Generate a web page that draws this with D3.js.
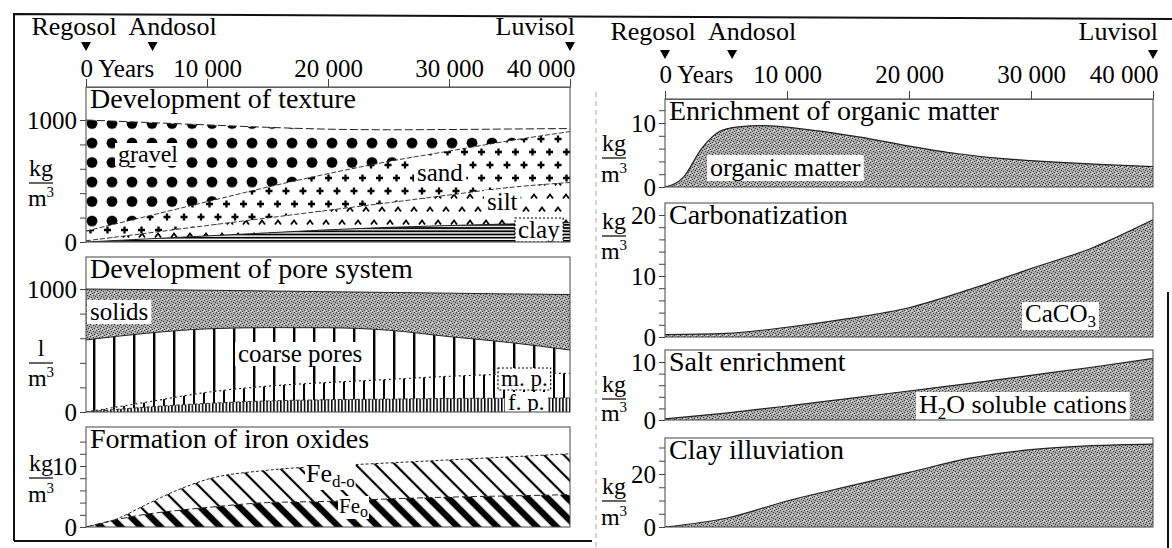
<!DOCTYPE html>
<html>
<head>
<meta charset="utf-8">
<script src="https://cdn.jsdelivr.net/npm/d3@7"></script>
<style>
  body { margin: 0; background: #fff; }
  svg { display: block; }
  text { font-family: "Liberation Serif", "Times New Roman", serif; fill: #000; }
</style>
</head>
<body>
<div id="chart"></div>
<script>
var years = [0, 5000, 10000, 15000, 20000, 25000, 30000, 35000, 40000];
var yearTicks = [0, 10000, 20000, 30000, 40000];
var soilStages = [
  {name: "Regosol", year: 0},
  {name: "Andosol", year: 5500},
  {name: "Luvisol", year: 40000}
];

// development of texture, kg/m3 of each fraction (stacked from the bottom)
var clay   = [0, 25, 50, 75, 100, 120, 135, 148, 158];
var silt   = [10, 47, 85, 122, 160, 202, 250, 299, 330];
var sand   = [80, 138, 195, 253, 300, 338, 360, 383, 417];
var gravel = [910, 770, 630, 490, 365, 260, 177, 96, 25];

// development of pore system, l/m3
var finePores   = [0, 40, 70, 90, 100, 105, 110, 112, 114];
var mediumPores = [0, 40, 90, 120, 140, 160, 180, 196, 201];
var coarsePores = [586, 560, 516, 476, 445, 400, 323, 257, 189];
var solids      = [414, 355, 314, 298, 293, 307, 353, 395, 451];

// iron oxides, kg/m3
var ironYears = [0, 2500, 5000, 7500, 10000, 15000, 20000, 25000, 30000, 35000, 40000];
var feO  = [0, 1.2, 2.1, 2.7, 3.2, 4.0, 4.2, 4.6, 4.9, 5.1, 5.3];
var feDO = [0, 0.1, 1.6, 3.3, 4.6, 5.3, 5.8, 5.9, 6.1, 6.4, 6.7];

// organic matter, kg/m3
var organicYears  = [0, 1500, 3000, 4500, 6000, 8000, 12000, 16000, 20000, 24000, 28000, 32000, 36000, 40000];
var organicMatter = [0, 1.5, 6.0, 8.7, 9.4, 9.6, 8.9, 7.8, 6.4, 5.2, 4.4, 3.9, 3.5, 3.2];

// the other right hand curves, kg/m3 at "years"
var caco3          = [0.4, 0.6, 1.6, 3.0, 4.8, 7.8, 11.2, 14.6, 19.2];
var solubleCations = [0.2, 1.2, 2.4, 3.7, 5.0, 6.3, 7.7, 9.1, 10.6];
var illuvialClay   = [0, 3.3, 9.8, 15.3, 20.6, 26.0, 29.2, 30.7, 31.3];

var svg = d3.select("#chart").append("svg").attr("width", 1172).attr("height", 548)
  .style("font-family", "'Liberation Serif', 'Times New Roman', serif");
var defs = svg.append("defs");

// fill patterns
function pat(id, w, h, x, y) {
  return defs.append("pattern").attr("id", id).attr("patternUnits", "userSpaceOnUse")
    .attr("width", w).attr("height", h).attr("x", x || 0).attr("y", y || 0);
}
var p = pat("pat-gravel", 20, 19.5, 82, 113.5);
p.append("circle").attr("cx", 10).attr("cy", 10).attr("r", 5.4);

p = pat("pat-sand", 17, 26, 86, 120);
p.append("path").attr("d", "M1,6h7M4.5,2.5v7M9.5,19h7M13,15.5v7").attr("stroke", "#000").attr("stroke-width", 2.3);

p = pat("pat-silt", 16, 26, 90, 125);
p.append("path").attr("d", "M1,8.5L4,4.5L7,8.5M9,21.5L12,17.5L15,21.5")
  .attr("stroke", "#000").attr("stroke-width", 1.8).attr("fill", "none");

p = pat("pat-clay", 8, 3.2);
p.append("rect").attr("width", 8).attr("height", 1.8);

p = pat("pat-stipple", 6, 6);
p.append("rect").attr("width", 6).attr("height", 6).attr("fill", "#ababab");
[[0, 0], [3, 1], [1, 3], [4, 4], [2, 5], [5, 2]].forEach(function(d) {
  p.append("rect").attr("x", d[0]).attr("y", d[1]).attr("width", 1).attr("height", 1).attr("fill", "#333");
});
[[2, 0], [5, 5], [0, 4]].forEach(function(d) {
  p.append("rect").attr("x", d[0]).attr("y", d[1]).attr("width", 1).attr("height", 1).attr("fill", "#e6e6e6");
});

p = pat("pat-coarse", 20, 10, 93, 0);
p.append("rect").attr("width", 2.4).attr("height", 10);
p = pat("pat-medium", 10, 10, 93, 0);
p.append("rect").attr("width", 2).attr("height", 10);
p = pat("pat-fine", 3.4, 10, 93, 0);
p.append("rect").attr("width", 1.5).attr("height", 10);

p = pat("pat-thin", 14, 14).attr("patternTransform", "rotate(-45)");
p.append("rect").attr("x", 5.9).attr("width", 2.2).attr("height", 14);
p = pat("pat-thick", 14, 14).attr("patternTransform", "rotate(-45)");
p.append("rect").attr("x", 3.8).attr("width", 6.4).attr("height", 14);

// columns and the year axis above them
var columns = [
  {x0: 86, x1: 570, nameY: 35, triY: 42, labelY: 77, axisY: 87, unitX: 41},
  {x0: 665, x1: 1153, nameY: 40, triY: 50, labelY: 83, axisY: 99, unitX: 614}
];
columns.forEach(function(c) { c.x = d3.scaleLinear().domain([0, 40000]).range([c.x0, c.x1]); });
var stageStyle = {
  Regosol: {anchor: "middle", dx: -12},
  Andosol: {anchor: "middle", dx: 20},
  Luvisol: {anchor: "end", dx: 5}
};

columns.forEach(function(c) {
  var g = svg.append("g");
  soilStages.forEach(function(s) {
    var sx = c.x(s.year);
    g.append("path").attr("d", "M" + (sx - 5) + "," + c.triY + "h10l-5,9z");
    g.append("text").attr("x", sx + stageStyle[s.name].dx).attr("y", c.nameY)
      .attr("text-anchor", stageStyle[s.name].anchor).style("font-size", "26px").text(s.name);
  });
  var ax = g.append("g").attr("transform", "translate(0," + c.axisY + ")")
    .call(d3.axisTop(c.x).tickValues(yearTicks).tickSize(8).tickSizeOuter(0)
      .tickFormat(function(d) { return d === 0 ? "0 Years" : d3.format(",")(d).replace(/,/g, " "); }));
  ax.attr("font-family", null).attr("font-size", null);
  ax.select(".domain").attr("stroke", "#777");
  ax.selectAll(".tick line").attr("stroke", "#444");
  ax.selectAll(".tick text").attr("y", c.labelY - c.axisY).attr("dy", null).style("font-size", "25px")
    .attr("text-anchor", function(d) { return d === 0 ? "start" : (d === 40000 ? "end" : "middle"); })
    .attr("x", function(d) { return d === 0 ? -6 : (d === 40000 ? 5 : 0); });
});

// panel helpers
var clipN = 0;
function panel(c, top, domain, range) {
  var y = d3.scaleLinear().domain(domain).range(range);
  var id = "clip" + (clipN++);
  var bottom = y(0);
  defs.append("clipPath").attr("id", id).append("rect")
    .attr("x", c.x0).attr("y", top).attr("width", c.x1 - c.x0).attr("height", bottom - top);
  var g = svg.append("g");
  return {c: c, x: c.x, y: y, top: top, bottom: bottom, g: g,
          plot: g.append("g").attr("clip-path", "url(#" + id + ")")};
}

function finish(pn, title, ticks, shown, unit, unitYs) {
  var c = pn.c;
  pn.g.append("rect").attr("x", c.x0).attr("y", pn.top).attr("width", c.x1 - c.x0)
    .attr("height", pn.bottom - pn.top).attr("fill", "none").attr("stroke", "#444").attr("stroke-width", 1);
  pn.g.append("text").attr("x", c.x0 + 4).attr("y", pn.top + 21).style("font-size", "28px").text(title);
  var ay = pn.g.append("g").attr("transform", "translate(" + c.x0 + ",0)")
    .call(d3.axisLeft(pn.y).tickValues(ticks).tickSize(6).tickPadding(3)
      .tickFormat(function(d) { return shown.indexOf(d) >= 0 ? d : ""; }));
  ay.attr("font-family", null).attr("font-size", null);
  ay.select(".domain").remove();
  ay.selectAll(".tick line").attr("stroke", "#444");
  ay.selectAll(".tick text").style("font-size", "25px").attr("dy", "0.34em");
  // unit as a fraction
  var u = pn.g.append("g").style("font-size", "24px");
  u.append("text").attr("x", c.unitX).attr("y", unitYs[0]).attr("text-anchor", "middle").text(unit);
  u.append("line").attr("x1", c.unitX - 12).attr("x2", c.unitX + 12)
    .attr("y1", unitYs[1]).attr("y2", unitYs[1]).attr("stroke", "#000").attr("stroke-width", 1.2);
  var m = u.append("text").attr("x", c.unitX).attr("y", unitYs[2]).attr("text-anchor", "middle");
  m.append("tspan").text("m");
  m.append("tspan").attr("dy", -9).style("font-size", "15px").text("3");
}

// text on a white patch; parts are [text, dy, size]
function tag(parent, x, y, parts, opt) {
  opt = opt || {};
  var t = parent.append("text").attr("x", x).attr("y", y).style("font-size", (opt.size || 25) + "px");
  parts.forEach(function(pt) {
    var s = t.append("tspan").text(pt[0]);
    if (pt[1]) s.attr("dy", pt[1]);
    if (pt[2]) s.style("font-size", pt[2] + "px");
  });
  var b = t.node().getBBox();
  var pad = opt.pad == null ? 3 : opt.pad;
  parent.insert("rect", function() { return t.node(); })
    .attr("x", b.x - pad).attr("y", b.y + 2).attr("width", b.width + 2 * pad).attr("height", b.height - 3)
    .attr("fill", "#fff").attr("stroke", opt.stroke || "none")
    .attr("stroke-dasharray", opt.dash || null).attr("stroke-width", 1.2);
}

function stackedPanel(pn, xs, keys, cols, fills) {
  var rows = xs.map(function(yr, i) {
    var r = {year: yr};
    keys.forEach(function(k, j) { r[k] = cols[j][i]; });
    return r;
  });
  var layers = d3.stack().keys(keys)(rows);
  var area = d3.area().curve(d3.curveMonotoneX)
    .x(function(d) { return pn.x(d.data.year); })
    .y0(function(d) { return pn.y(d[0]); })
    .y1(function(d) { return pn.y(d[1]); });
  pn.plot.selectAll("path.layer").data(layers).join("path").attr("class", "layer")
    .attr("d", area).attr("fill", function(d, i) { return fills[i]; });
  return layers;
}

function edges(pn, layers, styles) {
  var line = d3.line().curve(d3.curveMonotoneX)
    .x(function(d) { return pn.x(d.data.year); })
    .y(function(d) { return pn.y(d[1]); });
  pn.plot.selectAll("path.edge").data(layers).join("path").attr("class", "edge")
    .attr("d", line).attr("fill", "none").attr("stroke", "#222")
    .attr("stroke-width", function(d, i) { return styles[i][0]; })
    .attr("stroke-dasharray", function(d, i) { return styles[i][1]; });
}

function singleArea(pn, xs, vals) {
  var rows = xs.map(function(yr, i) { return {year: yr, v: vals[i]}; });
  pn.plot.append("path").datum(rows).attr("fill", "url(#pat-stipple)")
    .attr("d", d3.area().curve(d3.curveMonotoneX)
      .x(function(d) { return pn.x(d.year); }).y0(pn.bottom).y1(function(d) { return pn.y(d.v); }));
  pn.plot.append("path").datum(rows).attr("fill", "none").attr("stroke", "#222").attr("stroke-width", 1.2)
    .attr("d", d3.line().curve(d3.curveMonotoneX)
      .x(function(d) { return pn.x(d.year); }).y(function(d) { return pn.y(d.v); }));
}

var L = columns[0], R = columns[1];

// Development of texture
var tex = panel(L, 87, [0, 1000], [242, 120]);
var texLayers = stackedPanel(tex, years, ["clay", "silt", "sand", "gravel"], [clay, silt, sand, gravel],
  ["url(#pat-clay)", "url(#pat-silt)", "url(#pat-sand)", "url(#pat-gravel)"]);
edges(tex, texLayers, [[1, null], [0.9, "5,2"], [0.9, "5,2"], [1, "8,3"]]);
tag(tex.plot, 118, 162, [["gravel"]], {size: 24});
tag(tex.plot, 417, 181, [["sand"]]);
tag(tex.plot, 487, 210, [["silt"]]);
tag(tex.plot, 518, 238, [["clay"]], {stroke: "#000", dash: "2,2"});
finish(tex, "Development of texture", d3.range(0, 1001, 200), [0, 1000], "kg", [176, 183, 206]);

// Development of pore system
var pore = panel(L, 257, [0, 1000], [412, 289]);
var poreLayers = stackedPanel(pore, years, ["fine", "medium", "coarse", "solids"],
  [finePores, mediumPores, coarsePores, solids],
  ["url(#pat-fine)", "url(#pat-medium)", "url(#pat-coarse)", "url(#pat-stipple)"]);
edges(pore, poreLayers, [[0.9, "4,2"], [1.2, "2,3"], [1, null], [1, null]]);
tag(pore.plot, 90, 320, [["solids"]]);
tag(pore.plot, 238, 362, [["coarse pores"]]);
tag(pore.plot, 501, 386, [["m. p."]], {size: 23, stroke: "#000", dash: "2,2"});
tag(pore.plot, 508, 410, [["f. p."]], {size: 23});
finish(pore, "Development of pore system", d3.range(0, 1001, 200), [0, 1000], "l", [356, 363, 386]);

// Formation of iron oxides
var iron = panel(L, 427, [0, 10], [527, 466]);
var ironLayers = stackedPanel(iron, ironYears, ["feO", "feDO"], [feO, feDO],
  ["url(#pat-thick)", "url(#pat-thin)"]);
edges(iron, ironLayers, [[1, "6,3"], [1, "3,2"]]);
tag(iron.plot, 306, 482, [["Fe"], ["d-o", 5, 17]], {size: 26, pad: 1});
tag(iron.plot, 339, 513, [["Fe"], ["o", 4, 16]], {size: 21, pad: 1});
finish(iron, "Formation of iron oxides", d3.range(0, 15, 2), [0, 10], "kg", [471, 478, 502]);

// Enrichment of organic matter
var org = panel(R, 99, [0, 10], [187, 123]);
singleArea(org, organicYears, organicMatter);
tag(org.plot, 710, 176, [["organic matter"]], {size: 26});
finish(org, "Enrichment of organic matter", d3.range(0, 13, 2), [0, 10], "kg", [151, 158, 182]);

// Carbonatization
var carb = panel(R, 203, [0, 20], [337, 215]);
singleArea(carb, years, caco3);
tag(carb.plot, 1025, 322, [["CaCO"], ["3", 5, 17]], {size: 25});
finish(carb, "Carbonatization", d3.range(0, 21, 2), [0, 10, 20], "kg", [229, 236, 259]);

// Salt enrichment
var salt = panel(R, 350, [0, 10], [420, 362]);
singleArea(salt, years, solubleCations);
tag(salt.plot, 919, 413, [["H"], ["2", 6, 17], ["O soluble cations", -6]], {size: 26});
finish(salt, "Salt enrichment", d3.range(0, 11, 2), [0, 10], "kg", [392, 399, 421]);

// Clay illuviation
var ill = panel(R, 438, [0, 20], [527, 474]);
singleArea(ill, years, illuvialClay);
finish(ill, "Clay illuviation", d3.range(0, 31, 5), [0, 20], "kg", [494, 501, 525]);

// scanned page frame
svg.append("path").attr("d", "M14,541V14L1172,19M14,541H592")
  .attr("fill", "none").attr("stroke", "#111").attr("stroke-width", 2);
svg.append("path").attr("d", "M1168,292V548")
  .attr("stroke", "#111").attr("stroke-width", 2);
svg.append("path").attr("d", "M596,92V548")
  .attr("stroke", "#aaa").attr("stroke-width", 1).attr("stroke-dasharray", "5,4");
</script>
</body>
</html>
